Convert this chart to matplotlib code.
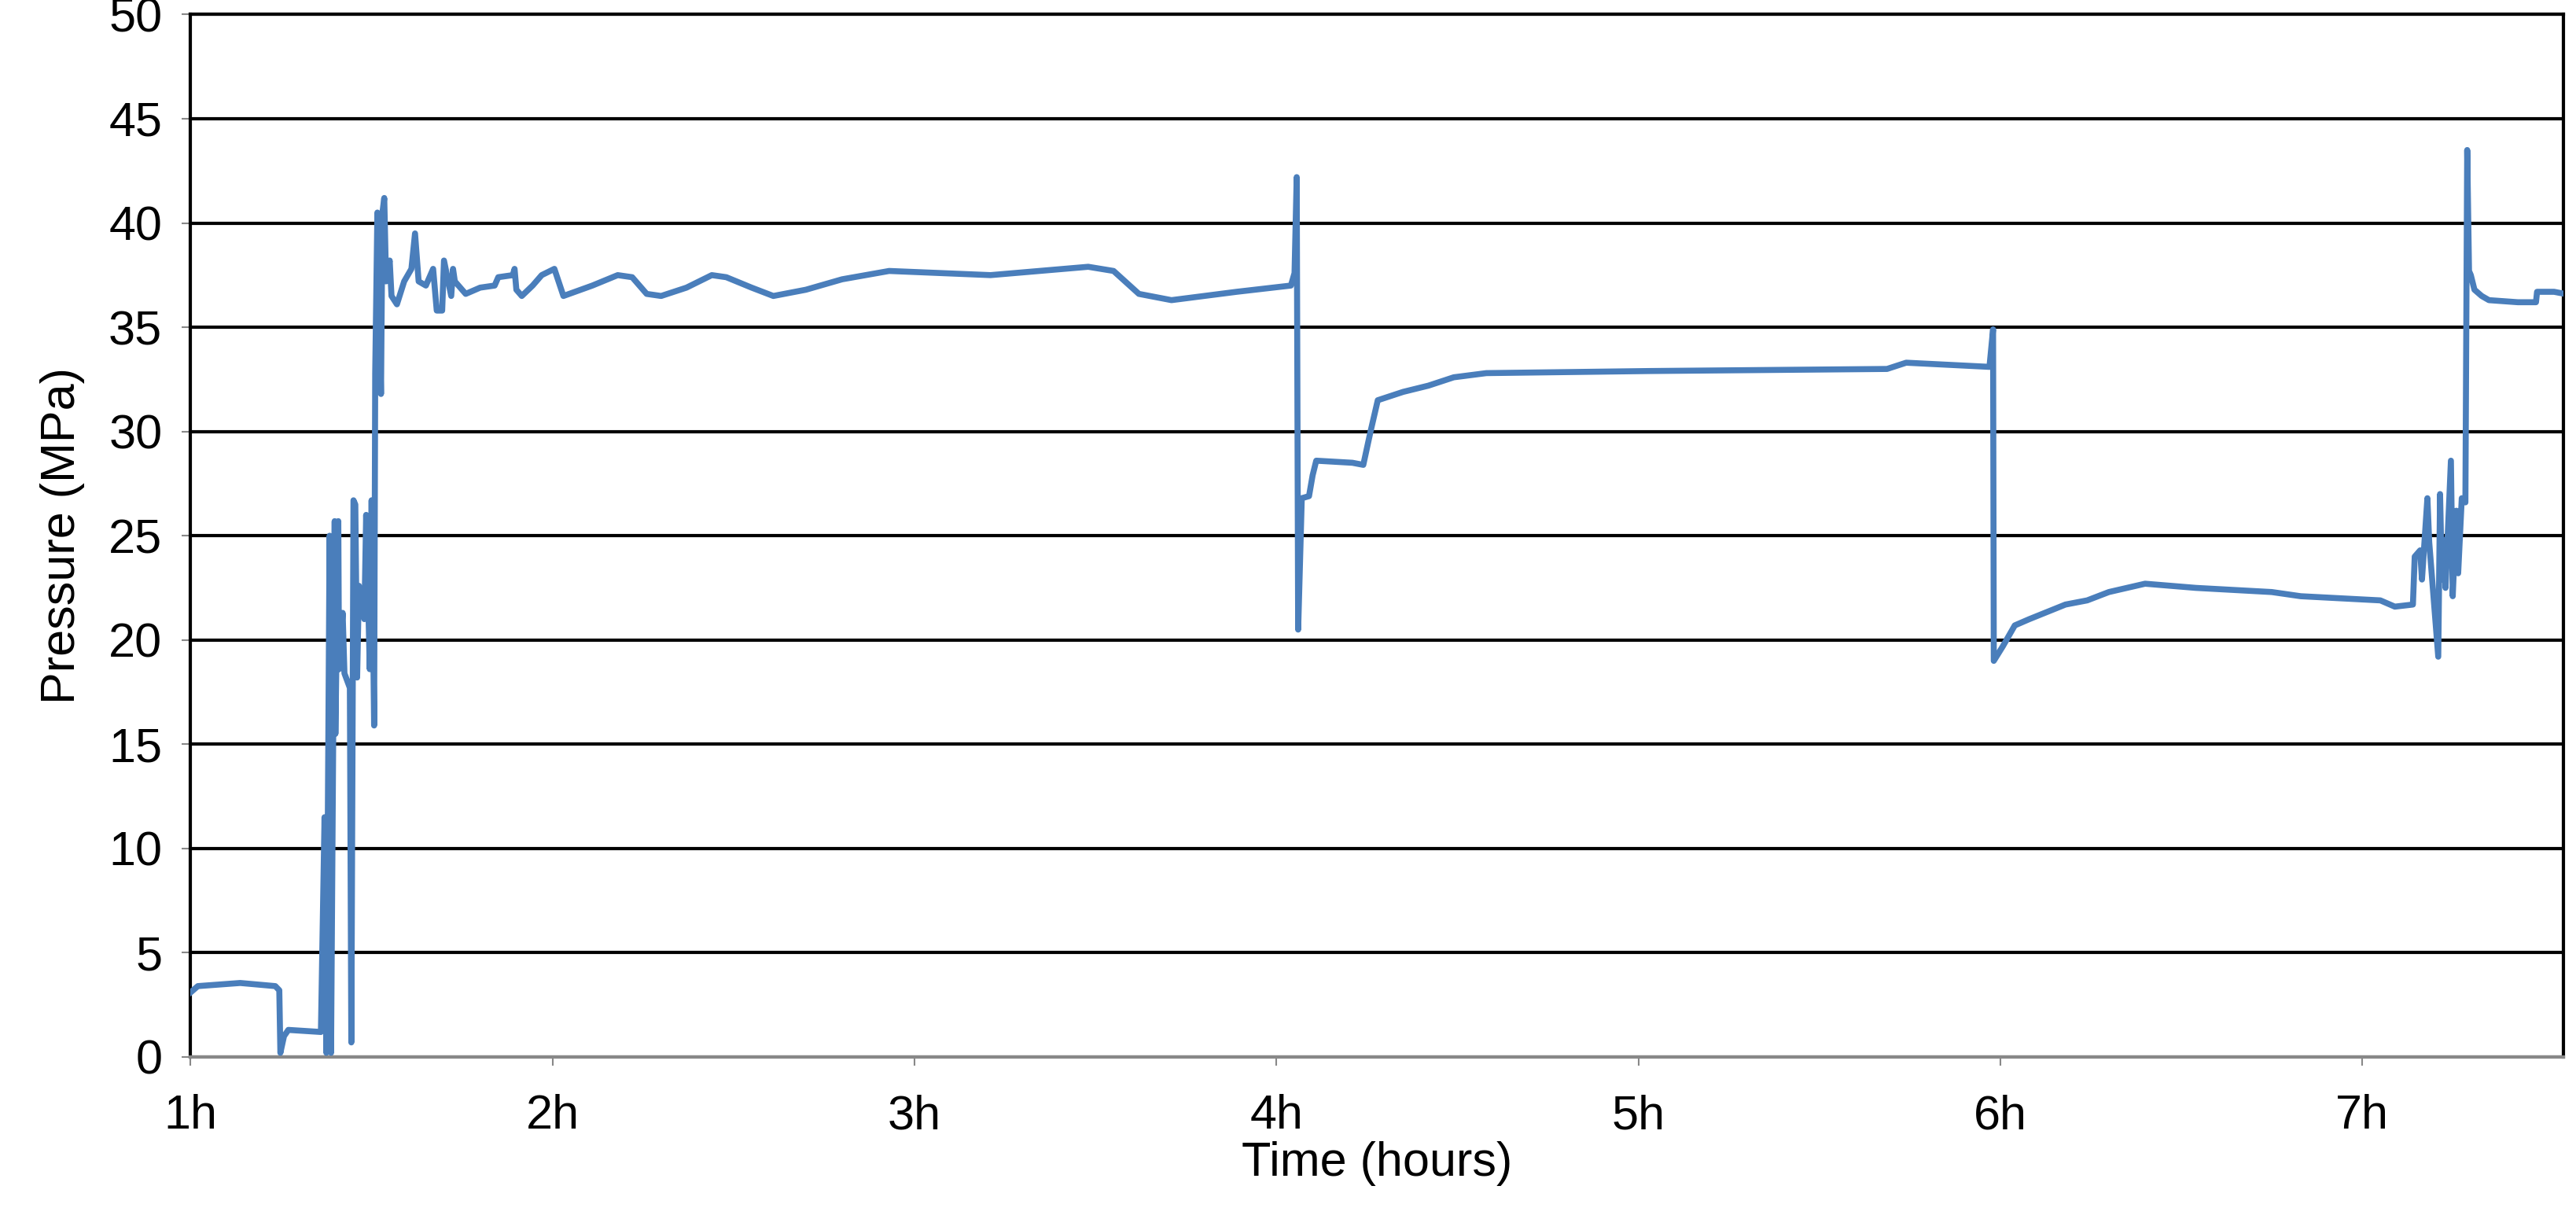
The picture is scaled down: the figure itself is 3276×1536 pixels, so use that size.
import matplotlib
matplotlib.use("Agg")
import matplotlib.pyplot as plt

# traced pressure record as (hours, MPa) pairs
trace = [
    (1.00, 3.1), (1.02, 3.4), (1.137, 3.55), (1.234, 3.4), (1.245, 3.2),
    (1.248, 0.2), (1.258, 1.0), (1.27, 1.3), (1.36, 1.2), (1.37, 11.5),
    (1.375, 0.2), (1.384, 25.0), (1.388, 0.2), (1.398, 25.7), (1.40, 15.5),
    (1.408, 25.7), (1.41, 18.6), (1.42, 21.3), (1.425, 18.4), (1.44, 17.7),
    (1.444, 0.7), (1.45, 26.7), (1.455, 26.5), (1.46, 18.2), (1.465, 22.6),
    (1.48, 21.0), (1.485, 26.0), (1.495, 18.6), (1.50, 26.7), (1.507, 15.9),
    (1.51, 32.8), (1.516, 40.5), (1.526, 31.8), (1.53, 40.5), (1.535, 41.2),
    (1.54, 37.2), (1.55, 38.2), (1.555, 36.5), (1.57, 36.1), (1.59, 37.2),
    (1.61, 37.8), (1.62, 39.5), (1.63, 37.2), (1.65, 37.0), (1.67, 37.8),
    (1.68, 35.8), (1.695, 35.8), (1.70, 38.2), (1.72, 36.5), (1.725, 37.8),
    (1.73, 37.2), (1.76, 36.6), (1.80, 36.9), (1.84, 37.0), (1.85, 37.4),
    (1.89, 37.5), (1.895, 37.8), (1.90, 36.8), (1.915, 36.5), (1.945, 37.0),
    (1.97, 37.5), (2.005, 37.8), (2.03, 36.5), (2.11, 37.0), (2.18, 37.5),
    (2.22, 37.4), (2.26, 36.6), (2.30, 36.5), (2.37, 36.9), (2.44, 37.5),
    (2.48, 37.4), (2.55, 36.9), (2.61, 36.5), (2.70, 36.8), (2.80, 37.3),
    (2.93, 37.7), (3.07, 37.6), (3.21, 37.5), (3.48, 37.9), (3.55, 37.7),
    (3.62, 36.6), (3.71, 36.3), (3.89, 36.7), (3.94, 36.8), (4.04, 37.0),
    (4.05, 37.6), (4.056, 42.2), (4.06, 20.5), (4.07, 26.8), (4.09, 26.9),
    (4.10, 27.9), (4.11, 28.6), (4.21, 28.5), (4.24, 28.4), (4.26, 30.0),
    (4.28, 31.5), (4.35, 31.9), (4.42, 32.2), (4.49, 32.6), (4.58, 32.8),
    (5.03, 32.9), (5.687, 33.0), (5.74, 33.3), (5.97, 33.1), (5.98, 34.9),
    (5.982, 19.0), (6.007, 19.7), (6.04, 20.7), (6.08, 21.0), (6.18, 21.7),
    (6.24, 21.9), (6.30, 22.3), (6.40, 22.7), (6.54, 22.5), (6.75, 22.3),
    (6.83, 22.1), (7.05, 21.9), (7.09, 21.6), (7.14, 21.7), (7.145, 24.0),
    (7.16, 24.3), (7.165, 22.9), (7.18, 26.8), (7.185, 24.7), (7.21, 19.2),
    (7.215, 27.0), (7.22, 22.9), (7.225, 24.8), (7.23, 22.5), (7.245, 28.6),
    (7.25, 22.1), (7.26, 26.2), (7.265, 23.2), (7.275, 26.8), (7.285, 26.6),
    (7.29, 43.5), (7.295, 37.7), (7.30, 37.5), (7.31, 36.8), (7.33, 36.5),
    (7.35, 36.3), (7.43, 36.2), (7.48, 36.2), (7.483, 36.7), (7.53, 36.7),
    (7.56, 36.6),
]
hours = [h for h, _ in trace]
pressure = [p for _, p in trace]

x_ticks = [1, 2, 3, 4, 5, 6, 7]
x_labels = ["1h", "2h", "3h", "4h", "5h", "6h", "7h"]
y_ticks = [0, 5, 10, 15, 20, 25, 30, 35, 40, 45, 50]

plt.rcParams["font.family"] = ["Liberation Sans Narrow", "Liberation Sans", "DejaVu Sans"]

fig = plt.figure(figsize=(32.76, 15.36), dpi=100)
ax = fig.add_axes([0.074, 0.125, 0.921, 0.863])

ax.plot(hours, pressure, color="#4a7ebb", linewidth=5.5, solid_joinstyle="round", zorder=3)

ax.set_xlim(1, 7.555)
ax.set_ylim(0, 50)
ax.set_xticks(x_ticks)
ax.set_xticklabels(x_labels)
ax.set_yticks(y_ticks)
ax.yaxis.grid(True, color="black", linewidth=3)
ax.set_axisbelow(True)

ax.tick_params(axis="both", labelsize=44, colors="#888888", labelcolor="black",
               length=8, width=1.5, direction="out")
ax.tick_params(axis="x", pad=26)
ax.tick_params(axis="y", pad=18)
ax.set_xlabel("Time (hours)", fontsize=44, labelpad=2)
ax.set_ylabel("Pressure (MPa)", fontsize=44, labelpad=22)

for side in ("left", "right", "top"):
    ax.spines[side].set_color("black")
    ax.spines[side].set_linewidth(3)
ax.spines["bottom"].set_color("#888888")
ax.spines["bottom"].set_linewidth(3)

fig.savefig("out.png", dpi=100)
